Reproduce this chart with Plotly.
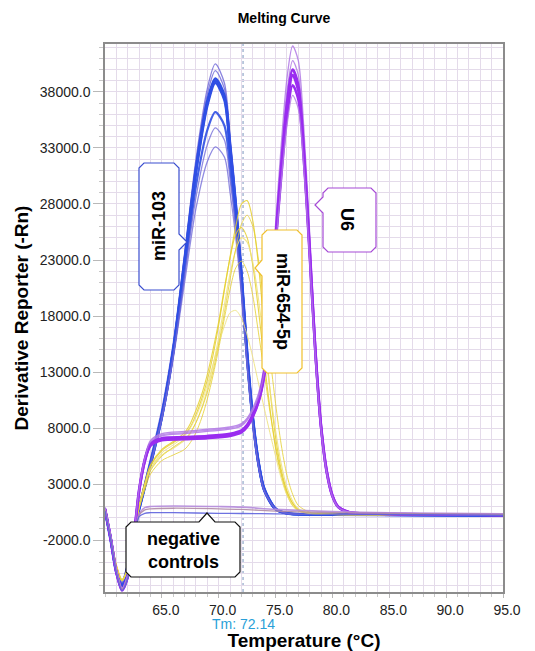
import plotly.graph_objects as go

# ---------------------------------------------------------------- data
TM = 72.14

X_TICKS = [65.0, 70.0, 75.0, 80.0, 85.0, 90.0, 95.0]
Y_TICKS = [-2000.0, 3000.0, 8000.0, 13000.0, 18000.0, 23000.0, 28000.0, 33000.0, 38000.0]

# miR-103 replicates (temperature grid + derivative reporter values)
T_MIR103 = [60, 60.5, 61, 61.5, 62, 62.5, 63, 64, 65, 66, 67, 68, 69, 69.7,
            70.5, 71, 71.5, 72, 72.5, 73, 73.5, 74, 75, 76, 80, 88, 95]
MIR103 = [
    [900, -1600, -4400, -5600, -4000, -1000, 1100, 5300, 9700, 15600, 23600, 32000, 38300, 40500,
     38800, 34000, 28600, 22300, 15200, 9300, 5300, 2800, 900, 450, 300, 250, 200],
    [800, -1800, -4600, -5900, -4300, -1200, 900, 5100, 9400, 15300, 23300, 31600, 37800, 39900,
     38300, 33600, 28300, 22100, 15000, 9200, 5200, 2700, 850, 400, 300, 250, 200],
    [700, -1900, -4800, -6000, -4400, -1300, 800, 4900, 9200, 15000, 23000, 31200, 37200, 39200,
     37700, 33200, 28000, 21800, 14800, 9000, 5000, 2600, 800, 400, 300, 250, 200],
    [750, -1850, -4700, -5900, -4300, -1250, 850, 4800, 9100, 14900, 22800, 31000, 37000, 39000,
     37500, 33000, 27700, 21500, 14500, 8800, 4900, 2500, 800, 400, 300, 250, 200],
    [700, -2000, -4900, -6100, -4500, -1400, 750, 4700, 9000, 14800, 22600, 30800, 36800, 38800,
     37300, 32800, 27500, 21300, 14300, 8700, 4800, 2500, 750, 380, 280, 230, 200],
    [700, -1900, -4800, -6000, -4400, -1300, 800, 4700, 8900, 14600, 22100, 29600, 34600, 36200,
     35000, 31200, 26400, 20700, 14000, 8500, 4700, 2400, 750, 380, 280, 230, 200],
    [850, -1700, -4500, -5800, -4200, -1100, 1000, 4800, 9000, 14500, 21600, 28600, 33300, 34800,
     33700, 30200, 25800, 20300, 13800, 8400, 4700, 2400, 800, 400, 300, 250, 200],
    [900, -1600, -4400, -5700, -4100, -1000, 1100, 4700, 8800, 14200, 21000, 27600, 31800, 33100,
     32200, 29000, 25000, 19800, 13500, 8300, 4600, 2400, 800, 400, 300, 250, 200],
]

# U6 replicates
T_U6 = [60, 60.5, 61, 61.5, 62, 62.5, 63, 63.5, 64, 65, 67, 69, 71, 72, 72.5, 73, 73.5, 74,
        74.5, 75, 75.5, 76, 76.5, 77, 77.5, 78, 78.5, 79, 79.5, 80, 80.5, 81.5, 85, 90, 95]
U6 = [
    [900, -1700, -4700, -6300, -5100, -1900, 2600, 5400, 6900, 7500, 7700, 7900, 8100, 8400, 8900,
     9800, 11100, 13600, 18800, 26200, 33300, 39200, 42100, 40800, 34500, 25400, 15800, 8600, 4400,
     2100, 1050, 520, 360, 300, 250],
    [850, -1750, -4750, -6400, -5200, -2000, 2500, 5300, 6700, 7300, 7500, 7700, 7900, 8200, 8700,
     9600, 10900, 13300, 18400, 25600, 32400, 38000, 40800, 39500, 33400, 24700, 15400, 8400, 4300,
     2050, 1000, 500, 350, 300, 250],
    [800, -1800, -4800, -6400, -5200, -2000, 2500, 5200, 6600, 7100, 7200, 7300, 7500, 7800, 8300,
     9200, 10500, 13000, 18000, 25000, 31500, 37000, 40000, 38600, 32600, 24000, 15000, 8200, 4200,
     2000, 1000, 500, 350, 300, 250],
    [800, -1850, -4850, -6450, -5250, -2050, 2400, 5100, 6500, 7000, 7100, 7200, 7400, 7700, 8200,
     9100, 10400, 12800, 17700, 24600, 31000, 36500, 39500, 38100, 32200, 23700, 14800, 8100, 4100,
     1950, 980, 500, 350, 300, 250],
    [750, -1900, -4900, -6500, -5300, -2100, 2300, 5000, 6400, 6900, 7000, 7100, 7300, 7600, 8100,
     9000, 10300, 12600, 17400, 24200, 30400, 35700, 38600, 37300, 31600, 23300, 14600, 8000, 4000,
     1900, 950, 480, 340, 290, 240],
    [850, -1750, -4700, -6300, -5100, -1900, 2600, 5300, 6800, 7400, 7600, 7800, 8000, 8300, 8800,
     9600, 10800, 13000, 17600, 24000, 30000, 35000, 37700, 36500, 31000, 23000, 14400, 7900, 4000,
     1900, 950, 480, 340, 290, 240],
]

# miR-654-5p replicates
T_MIR654 = [60, 60.5, 61, 61.5, 62, 62.5, 63, 63.5, 64, 65, 66, 67, 67.5, 68, 68.5, 69, 69.5,
            70, 70.5, 71, 71.5, 72, 72.5, 73, 73.5, 74, 74.5, 75, 75.5, 76, 76.5, 77, 78, 80, 95]
MIR654 = [
    [600, -1700, -4300, -5600, -4500, -1800, 1000, 3000, 4600, 6000, 6700, 7400, 8100, 9200, 10600,
     12300, 14500, 17200, 20300, 23300, 26000, 28000, 28300, 26500, 22500, 17000, 11500, 7200, 4300,
     2400, 1300, 750, 400, 300, 250],
    [650, -1650, -4200, -5500, -4400, -1700, 1100, 3100, 4700, 6100, 6800, 7600, 8400, 9600, 11000,
     12800, 15000, 17500, 20500, 23200, 25300, 25900, 25000, 22500, 18500, 14000, 9800, 6200, 3800,
     2100, 1100, 650, 380, 300, 250],
    [550, -1750, -4350, -5650, -4550, -1850, 900, 2800, 4300, 5600, 6200, 6900, 7500, 8500, 9800,
     11500, 13600, 16100, 19000, 21800, 23900, 25000, 24600, 22800, 19500, 15500, 11500, 7800, 4800,
     2700, 1500, 800, 420, 300, 250],
    [600, -1700, -4300, -5600, -4500, -1800, 800, 2500, 3900, 5100, 5600, 6100, 6700, 7600, 8900,
     10600, 12700, 15100, 17800, 20400, 22300, 22900, 22000, 19800, 16500, 13000, 9500, 6500, 4000,
     2300, 1300, 700, 400, 300, 250],
    [650, -1650, -4250, -5550, -4450, -1750, 1000, 2900, 4400, 5800, 6500, 7300, 8000, 9000, 10300,
     11900, 13700, 15500, 17100, 18300, 18500, 17800, 16300, 14300, 12000, 9800, 7600, 5500, 3500,
     2000, 1100, 600, 380, 300, 250],
    [600, -1700, -4300, -5600, -4500, -1800, 900, 2700, 4200, 5500, 6300, 7000, 7600, 8500, 9700,
     11200, 13100, 15500, 18300, 21300, 24000, 26200, 27000, 26000, 23000, 19000, 14500, 10200, 6500,
     3800, 2100, 1100, 500, 320, 250],
]

# no-template controls
T_NEG = [60, 60.5, 61, 61.5, 62, 62.5, 63, 63.5, 64, 66, 70, 72, 75, 80, 85, 90, 95]
NEG = [
    [800, -1700, -4700, -6300, -5200, -2200, 300, 900, 1000, 1050, 1000, 950, 750, 550, 450, 400, 350],
    [700, -1800, -4800, -6400, -5300, -2300, 200, 700, 800, 850, 800, 750, 600, 450, 400, 350, 300],
    [600, -1900, -4900, -6500, -5400, -2400, 100, 400, 450, 450, 400, 380, 350, 300, 280, 250, 200],
]

# ---------------------------------------------------------------- layout constants
W, H = 535, 651
M_L, M_R, M_T, M_B = 105, 32, 44, 59
PLOT_W = W - M_L - M_R
PLOT_H = H - M_T - M_B
FONT = "Liberation Sans, Arial, sans-serif"


def paper(px, py):
    """Page pixel -> paper coordinates of the plotting area."""
    return (px - M_L) / PLOT_W, (H - M_B - py) / PLOT_H


def callout_path(x0, y0, x1, y1, side, pos, tip, half=8, cut=5):
    """Chamfered label box with a small pointer on one side (page pixels)."""
    pts = [(x0 + cut, y0)]
    if side == "top":
        pts += [(pos - half, y0), tip, (pos + half, y0)]
    pts += [(x1 - cut, y0), (x1, y0 + cut)]
    if side == "right":
        pts += [(x1, pos - half), tip, (x1, pos + half)]
    pts += [(x1, y1 - cut), (x1 - cut, y1), (x0 + cut, y1), (x0, y1 - cut)]
    if side == "left":
        pts += [(x0, pos + half), tip, (x0, pos - half)]
    pts += [(x0, y0 + cut)]
    coords = [paper(*p) for p in pts]
    return "M " + " L ".join(f"{a:.5f},{b:.5f}" for a, b in coords) + " Z"


fig = go.Figure()


def add_family(temps, curves, styles, name):
    for vals, (color, width, opacity) in zip(curves, styles):
        fig.add_trace(go.Scatter(
            x=temps, y=vals, mode="lines", name=name, showlegend=False,
            line=dict(color=color, width=width, shape="spline", smoothing=0.8),
            opacity=opacity, hoverinfo="skip"))


BLUE, BLUE_THIN = "#2f4fe4", "#6d66d8"
VIOLET, VIOLET_THIN = "#9a2cf0", "#b27ae6"
YELLOW, YELLOW_PALE = "#e6d02e", "#efe27a"

add_family(T_MIR103, MIR103,
           [(BLUE_THIN, 1.3, 0.8), (BLUE_THIN, 1.3, 0.8), (BLUE, 2.6, 1), (BLUE, 2.6, 1),
            (BLUE, 2.6, 1), (BLUE, 2.2, 0.9), (BLUE_THIN, 1.3, 0.75), (BLUE_THIN, 1.3, 0.75)],
           "miR-103")
add_family(T_MIR654, MIR654,
           [(YELLOW, 1.1, 0.85), (YELLOW, 1.1, 0.85), (YELLOW_PALE, 1.1, 0.85),
            (YELLOW, 1.0, 0.8), (YELLOW_PALE, 1.0, 0.85), (YELLOW, 1.0, 0.8)],
           "miR-654-5p")
add_family(T_U6, U6,
           [(VIOLET_THIN, 1.3, 0.85), (VIOLET_THIN, 1.3, 0.85), (VIOLET, 2.6, 1),
            (VIOLET, 2.6, 1), (VIOLET, 2.4, 1), (VIOLET_THIN, 1.3, 0.8)],
           "U6")
add_family(T_NEG, NEG,
           [("#b58cdc", 1.6, 0.9), ("#b08aa6", 1.3, 0.9), ("#5f63de", 1.3, 0.9)],
           "negative controls")

# ---------------------------------------------------------------- callouts
CALLOUTS = [
    # box (x0, y0, x1, y1), pointer side, pointer centre, pointer tip, border, text, angle, centre
    ((139, 163, 179, 290), "right", 242, (187, 242), "#3b4fcf", "miR-103", -90, (159, 226)),
    ((262, 230, 302, 373), "left", 268, (255, 268), "#f0c02c", "miR-654-5p", 90, (283, 301)),
    ((323, 188, 376, 252), "left", 205, (315, 205), "#a64ad6", "U6", 90, (347, 219)),
    ((126, 522, 240, 577), "top", 207, (207, 513), "#111111", "negative<br>controls", 0, (183, 550)),
]

shapes = [dict(type="line", xref="x", yref="paper", x0=TM, x1=TM, y0=0, y1=1,
               line=dict(color="#8fa6c8", width=1.2, dash="dot"), layer="between")]
annotations = []
for (x0, y0, x1, y1), side, pos, tip, border, text, angle, (cx, cy) in CALLOUTS:
    shapes.append(dict(type="path", xref="paper", yref="paper",
                       path=callout_path(x0, y0, x1, y1, side, pos, tip),
                       fillcolor="white", line=dict(color=border, width=1.2), layer="above"))
    ax, ay = paper(cx, cy)
    annotations.append(dict(xref="paper", yref="paper", x=ax, y=ay, text=f"<b>{text}</b>",
                            showarrow=False, textangle=angle, xanchor="center", yanchor="middle",
                            font=dict(family=FONT, size=18, color="black")))

# melting temperature readout under the axis
annotations.append(dict(xref="x", yref="paper", x=TM, y=paper(0, 624)[1], text=f"Tm: {TM:.2f}",
                        showarrow=False, xanchor="center", yanchor="middle",
                        font=dict(family=FONT, size=14, color="#2a9fd8")))

GRID = "#e4dbea"
fig.update_layout(
    width=W, height=H, margin=dict(l=M_L, r=M_R, t=M_T, b=M_B, autoexpand=False),
    paper_bgcolor="white", plot_bgcolor="white",
    font=dict(family=FONT, color="#222222"),
    title=dict(text="<b>Melting Curve</b>", x=284 / W, xref="container", xanchor="center",
               y=1 - 18 / H, yref="container", yanchor="middle",
               font=dict(family=FONT, size=14, color="black")),
    shapes=shapes, annotations=annotations,
    xaxis=dict(
        range=[60, 95], tickmode="array", tickvals=X_TICKS,
        ticktext=[f"{v:.1f}" for v in X_TICKS], ticklabelshift=4,
        ticks="outside", ticklen=4, tickcolor="#b8b8b8",
        tickfont=dict(family=FONT, size=14, color="#222222"),
        showgrid=True, gridcolor=GRID, gridwidth=1,
        minor=dict(tickmode="linear", tick0=60, dtick=1, showgrid=True, gridcolor=GRID,
                   gridwidth=1, ticks="outside", ticklen=3, tickcolor="#c8c8c8"),
        showline=True, linecolor="#8c8c8c", linewidth=1.5, mirror=True, zeroline=False,
        automargin=False,
        title=dict(text="<b>Temperature (°C)</b>", standoff=21,
                   font=dict(family=FONT, size=19, color="black")),
    ),
    yaxis=dict(
        range=[-6625, 42277], tickmode="array", tickvals=Y_TICKS,
        ticktext=[f"{v:.1f}" for v in Y_TICKS],
        ticks="outside", ticklen=10, tickcolor="#b8b8b8",
        tickfont=dict(family=FONT, size=14, color="#222222"),
        showgrid=True, gridcolor=GRID, gridwidth=1,
        minor=dict(tickmode="linear", tick0=-2000, dtick=1000, showgrid=True, gridcolor=GRID,
                   gridwidth=1, ticks="outside", ticklen=4, tickcolor="#c8c8c8"),
        showline=True, linecolor="#8c8c8c", linewidth=1.5, mirror=True, zeroline=False,
        automargin=False,
        title=dict(text="<b>Derivative Reporter (-Rn)</b>", standoff=6,
                   font=dict(family=FONT, size=19, color="black")),
    ),
)

fig.write_html("out.html")
